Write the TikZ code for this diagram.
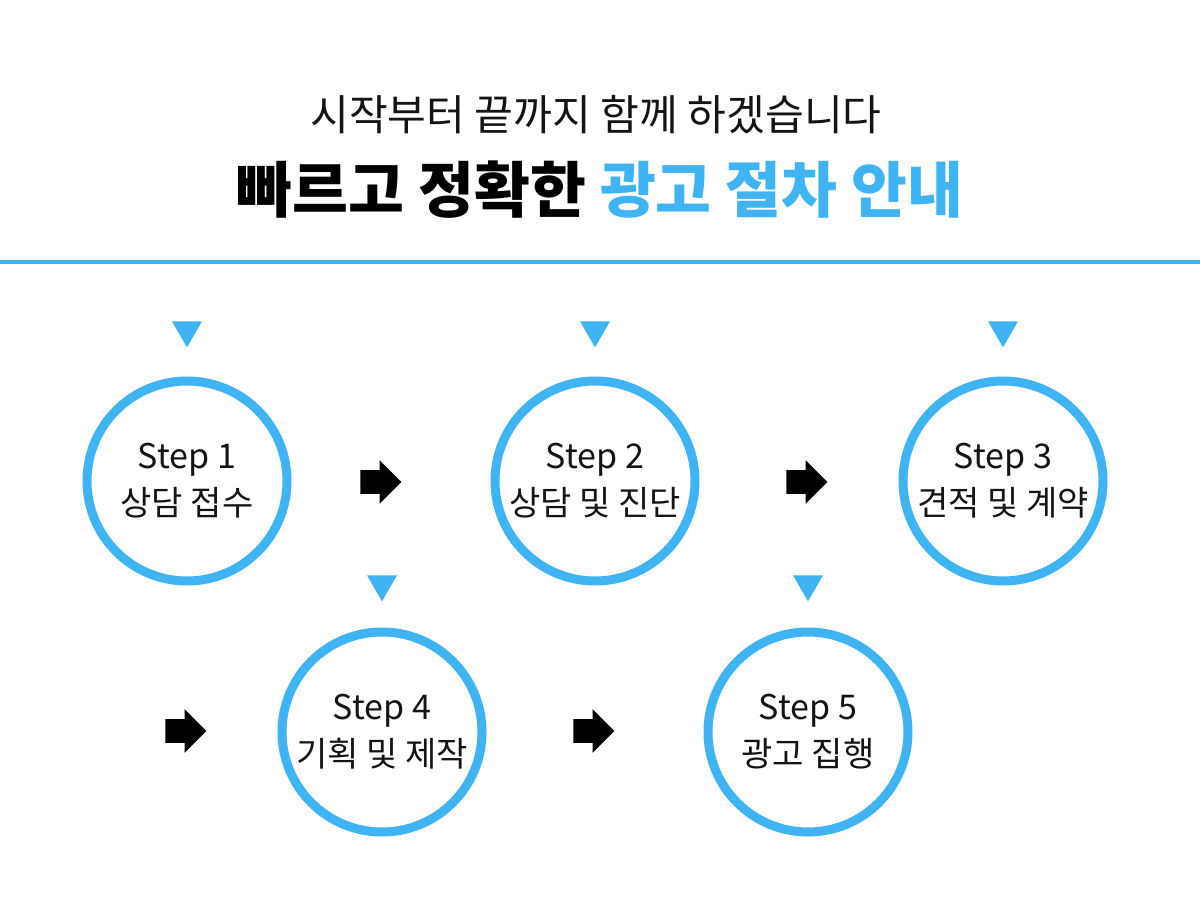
\documentclass[tikz,border=0pt]{standalone}
\usepackage{fontspec}
\setmainfont{Noto Sans CJK KR}
\usepackage{tikz}
\usetikzlibrary{shapes.geometric,shapes.arrows}
\usepackage{xcolor}
\definecolor{stepblue}{RGB}{64,180,242}
\definecolor{steptext}{RGB}{20,20,20}
\tikzset{
  stepcircle/.style={circle,draw=stepblue,line width=2.25mm,fill=white,
                     minimum size=50mm,inner sep=0pt,align=center,text=steptext,
                     font=\fontsize{24.2}{33.5}\selectfont},
  marker/.style={regular polygon,regular polygon sides=3,shape border rotate=180,
                 fill=stepblue,inner sep=0pt,minimum size=8.66mm},
  goarrow/.style={single arrow,fill=black,inner xsep=0pt,inner ysep=2.875mm,
                  minimum height=10.25mm,single arrow head extend=2.5mm},
  subhead/.style={font=\fontsize{30}{36}\selectfont,text=steptext},
  mainhead/.style={font=\fontsize{43.2}{50}\selectfont\bfseries,text=black},
}

\begin{document}
\begin{tikzpicture}[x=0.25mm,y=-0.25mm]
    \useasboundingbox[fill=white] (0,0) rectangle (1200,900);
    % heading
    \node[subhead] (sub) at (596,115) {시작부터 끝까지 함께 하겠습니다};
    \node[mainhead] (title) at (600,190) {빠르고 정확한 \textcolor{stepblue}{광고 절차 안내}};
    \coordinate (ruleL) at (0,262);
    \coordinate (ruleR) at (1200,262);
    \draw[stepblue,line width=1mm] (ruleL) -- (ruleR);
    % steps
    \node[stepcircle] (step1) at (187,481) {Step 1\\상담 접수};
    \node[stepcircle] (step2) at (595,481) {Step 2\\상담 및 진단};
    \node[stepcircle] (step3) at (1003,481) {Step 3\\견적 및 계약};
    \node[stepcircle] (step4) at (382,732) {Step 4\\기획 및 제작};
    \node[stepcircle] (step5) at (808,732) {Step 5\\광고 집행};
    % markers above the steps
    \node[marker] (mk1) at (187,330) {};
    \node[marker] (mk2) at (595,330) {};
    \node[marker] (mk3) at (1003,330) {};
    \node[marker] (mk4) at (382,584) {};
    \node[marker] (mk5) at (808,584) {};
    % block arrows
    \node[goarrow] (go1) at (375,482) {};
    \node[goarrow] (go2) at (801,482) {};
    \node[goarrow] (go3) at (180,731) {};
    \node[goarrow] (go4) at (588,731) {};
\end{tikzpicture}
\end{document}
